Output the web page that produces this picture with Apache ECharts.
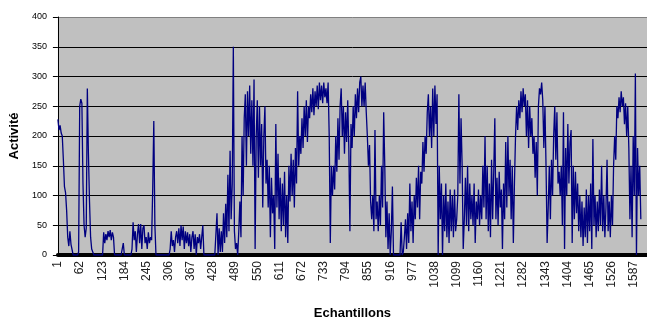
<!DOCTYPE html>
<html>
<head>
<meta charset="utf-8">
<script src="https://cdn.jsdelivr.net/npm/echarts@6/dist/echarts.min.js"></script>
<style>
  html, body { margin: 0; padding: 0; background: #fff; }
  #chart { width: 647px; height: 325px; }
</style>
</head>
<body>
<div id="chart"></div>
<script>
// one value every 3rd sample
const STEP = 3;
const SAMPLE_COUNT = 1623;

const activityStart = [
  228,210,218,205,200,160,115,105,75,30,
  15,40,18,20,0,0,0,0,0,5,
  250,262,255,120,50,30,45,280,170,90,
  30,10,5,0,0,0,0,0,0,0,
  0,0,38,20,35,25,40,30,42,25,
  38,30,0,0,0,0,0,0,0,0,
  20,0,0,0,0,0,0,0,10,55,
  25,40,5,35,52,20,52,10,45,50,
  20,30,10,38,20,30,25,110,225,50,
  0,0,0,0,0,0,0,0,0,0,
  0,0,0,10,40,15,25,5,30,40,
  20,45,15,50,25,48,10,40,20,38,
  15,35,5,30,40,10,35,0,30,20,
  35,10,30,50,0,0,0,0,0,0
];

const activityRise = [
  0,0,0,0,0,0,70,0,45,5,
  40,5,70,20,86,30,135,40,175,60,
  120,350,40,10,20,0,40,90,30,200,
  100,230,270,150,275,200,285,170,260,150,
  295,10,200,260,130,250,150,220,80,200,
  250,120,160,80,150,30,130,70,100,10,
  220,80,170,60,130,40,120,50,140,30,
  100,20,150,90,170,100,160,80,180,120,
  275,150,200,170,230,180,250,200,260,190,
  250,230,270,240,280,235,275,250,285,245,
  290,260,285,255,290,265,280,255,290,200,
  20,150,100,150,110,200,140,230,160,250,
  280,200,250,170,240,190,260,180,40,220,
  180,250,200,270,230,280,240,290,300,250
];

const activityMiddle = [
  285,250,290,240,200,150,185,90,60,100,
  40,210,60,90,40,100,50,150,80,240,
  150,30,90,10,70,0,40,115,0,0,
  0,0,0,0,0,55,0,5,30,60,
  10,70,20,120,40,90,20,100,60,130,
  80,150,60,140,120,190,140,200,170,240,
  270,200,250,180,280,200,285,220,270,0,
  150,60,120,0,100,40,120,30,90,20,
  110,40,100,30,110,40,60,100,270,120,
  230,150,10,60,130,50,150,40,120,60,
  100,50,120,20,90,60,110,50,100,60,
  150,80,200,60,150,40,120,30,160,60,
  140,230,60,130,50,140,80,110,10,120,
  60,190,80,200,100,160,60,150,20,120
];

const activityEnd = [
  200,250,210,260,230,275,240,280,250,270,
  200,260,180,250,200,230,170,200,130,190,
  100,250,280,270,290,260,180,250,150,20,
  80,150,60,160,100,200,250,160,240,120,
  140,100,150,50,240,10,180,100,220,120,
  190,210,20,150,60,140,70,120,40,100,
  30,90,15,80,30,110,20,100,40,120,
  10,195,50,100,30,90,40,110,50,150,
  40,100,30,80,160,40,90,30,100,50,
  150,200,160,250,230,265,240,275,250,265,
  220,255,200,250,180,60,150,30,200,100,
  305,0,180,100,150,60
];

const yTicks = [0, 50, 100, 150, 200, 250, 300, 350, 400];

const samples = [];
for (let i = 1; i <= SAMPLE_COUNT; i++) samples.push(String(i));

const activity = activityStart.concat(activityRise, activityMiddle, activityEnd);
const seriesData = activity.map((v, k) => [k * STEP, v]);

const chart = echarts.init(document.getElementById('chart'));
chart.setOption({
  animation: false,
  backgroundColor: '#ffffff',
  textStyle: { fontFamily: 'Liberation Sans, Arial, sans-serif' },
  grid: {
    left: 56,
    right: 0,
    top: 17,
    bottom: 65,
    show: true,
    backgroundColor: '#c0c0c0',
    borderWidth: 0,
  },
  xAxis: {
    type: 'category',
    data: samples,
    boundaryGap: false,
    name: 'Echantillons',
    nameLocation: 'middle',
    nameGap: 52,
    nameTextStyle: { fontSize: 13, fontWeight: 'bold', color: '#000' },
    axisLine: { lineStyle: { color: '#000', width: 4 } },
    axisTick: { show: false },
    axisLabel: {
      interval: 60,
      rotate: 90,
      fontSize: 12,
      color: '#222',
      margin: 6,
    },
    splitLine: { show: false },
  },
  yAxis: {
    type: 'value',
    min: yTicks[0],
    max: yTicks[yTicks.length - 1],
    interval: 50,
    name: 'Activité',
    nameLocation: 'middle',
    nameGap: 33,
    nameTextStyle: { fontSize: 13, fontWeight: 'bold', color: '#000' },
    axisLine: { show: true, lineStyle: { color: '#000', width: 1 } },
    axisTick: { show: true, length: 5, lineStyle: { color: '#000' } },
    axisLabel: { fontSize: 9, color: '#000', margin: 11 },
    splitLine: {
      lineStyle: {
        color: ['#000', '#000', '#000', '#000', '#000', '#000', '#000', '#000', '#808080'],
        width: 1,
      },
    },
  },
  series: [
    {
      name: 'Activité',
      type: 'line',
      data: seriesData,
      showSymbol: false,
      symbol: 'none',
      sampling: null,
      lineStyle: { color: '#000080', width: 1.3 },
    },
  ],
});
</script>
</body>
</html>
